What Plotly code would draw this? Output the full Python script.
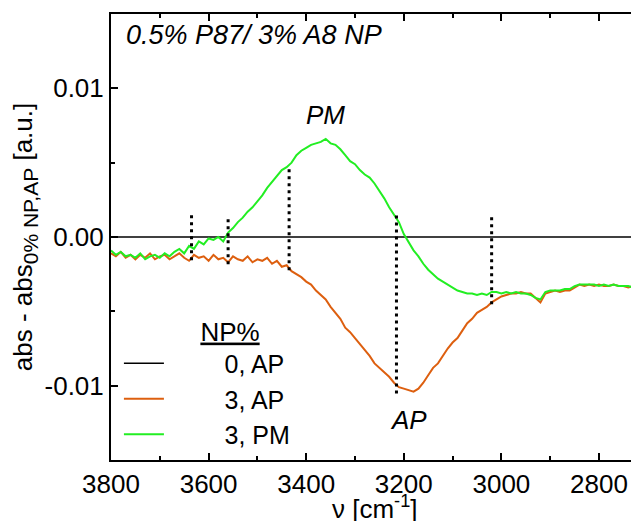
import plotly.graph_objects as go

# wavenumbers (cm^-1), 3800 -> 2720 step 10
wavenumber = list(range(3800, 2710, -10))

ap_3 = [
    -0.0011, -0.0013, -0.0010, -0.0014, -0.0012, -0.0015, -0.0012, -0.0014, -0.0011, -0.0015,  # 3800-3710
    -0.0013, -0.0012, -0.0015, -0.0013, -0.0011, -0.0014, -0.0016, -0.0012, -0.0014, -0.0013,  # 3700-3610
    -0.0016, -0.0012, -0.0015, -0.0014, -0.0017, -0.0013, -0.0015, -0.0016, -0.0013, -0.0017,  # 3600-3510
    -0.0015, -0.0016, -0.0014, -0.0018, -0.0016, -0.0020, -0.0019, -0.0023, -0.0025, -0.0027,  # 3500-3410
    -0.0030, -0.0032, -0.0036, -0.0039, -0.0042, -0.0047, -0.0051, -0.0055, -0.0061, -0.0064,  # 3400-3310
    -0.0068, -0.0072, -0.0076, -0.0080, -0.0085, -0.0088, -0.0091, -0.0094, -0.0098, -0.0101,  # 3300-3210
    -0.0102, -0.0103, -0.0104, -0.0102, -0.0098, -0.0093, -0.0088, -0.0085, -0.0080, -0.0075,  # 3200-3110
    -0.0071, -0.0068, -0.0063, -0.0058, -0.0055, -0.0051, -0.0049, -0.0047, -0.0044, -0.0042,  # 3100-3010
    -0.0040, -0.0039, -0.0038, -0.0038, -0.0037, -0.0038, -0.0038, -0.0041, -0.0044, -0.0038,  # 3000-2910
    -0.0037, -0.0036, -0.0037, -0.0036, -0.0036, -0.0034, -0.0032, -0.0033, -0.0032, -0.0033,  # 2900-2810
    -0.0032, -0.0033, -0.0033, -0.0032, -0.0033, -0.0033, -0.0034, -0.0033, -0.0034,          # 2800-2720
]

pm_3 = [
    -0.0009, -0.0012, -0.0010, -0.0013, -0.0012, -0.0014, -0.0011, -0.0015, -0.0013, -0.0012,  # 3800-3710
    -0.0014, -0.0011, -0.0013, -0.0010, -0.0008, -0.0011, -0.0006, -0.0008, -0.0003, -0.0005,  # 3700-3610
    -0.0001, -0.0002, 0.0000, -0.0003, 0.0003, 0.0006, 0.0010, 0.0013, 0.0017, 0.0020,        # 3600-3510
    0.0024, 0.0028, 0.0033, 0.0037, 0.0041, 0.0045, 0.0047, 0.0050, 0.0055, 0.0058,           # 3500-3410
    0.0060, 0.0062, 0.0063, 0.0064, 0.0066, 0.0063, 0.0062, 0.0059, 0.0055, 0.0051,           # 3400-3310
    0.0049, 0.0045, 0.0042, 0.0040, 0.0036, 0.0031, 0.0026, 0.0020, 0.0015, 0.0010,           # 3300-3210
    0.0002, -0.0004, -0.0009, -0.0013, -0.0018, -0.0022, -0.0025, -0.0028, -0.0030, -0.0032,  # 3200-3110
    -0.0034, -0.0036, -0.0037, -0.0038, -0.0038, -0.0039, -0.0038, -0.0039, -0.0037, -0.0037,  # 3100-3010
    -0.0038, -0.0037, -0.0038, -0.0037, -0.0038, -0.0038, -0.0039, -0.0041, -0.0042, -0.0037,  # 3000-2910
    -0.0036, -0.0036, -0.0036, -0.0035, -0.0035, -0.0033, -0.0032, -0.0032, -0.0032, -0.0032,  # 2900-2810
    -0.0033, -0.0032, -0.0033, -0.0032, -0.0033, -0.0033, -0.0033, -0.0034, -0.0034,          # 2800-2720
]

ap_0 = [0.0 for _ in wavenumber]

# dotted marker lines: position, top, bottom
marker_x = [3635, 3560, 3435, 3215, 3020]
marker_top = [0.00146, 0.00119, 0.00483, 0.00146, 0.00153]
marker_bottom = [-0.00157, -0.00184, -0.00224, -0.01053, -0.00453]

x_ticks = [3800, 3600, 3400, 3200, 3000, 2800]
y_tickvals = [-0.01, 0.0, 0.01]
y_ticktext = ["-0.01", "0.00", "0.01"]

FONT = "Liberation Sans, Arial, sans-serif"
FS = 26
NB = "\u00a0"

fig = go.Figure()
fig.add_trace(go.Scatter(x=wavenumber, y=ap_0, mode="lines", name=NB * 8 + "0, AP",
                         line=dict(color="black", width=1.6)))
fig.add_trace(go.Scatter(x=wavenumber, y=ap_3, mode="lines", name=NB * 8 + "3, AP",
                         line=dict(color="#DD5F0F", width=2)))
fig.add_trace(go.Scatter(x=wavenumber, y=pm_3, mode="lines", name=NB * 8 + "3, PM",
                         line=dict(color="#22EE22", width=2)))

for xv, yt, yb in zip(marker_x, marker_top, marker_bottom):
    fig.add_trace(go.Scatter(x=[xv, xv], y=[yb, yt], mode="lines", showlegend=False,
                             line=dict(color="black", width=3, dash="3px,4px")))

fig.add_annotation(x=0.025, y=0.99, xref="paper", yref="paper", text="<i>0.5% P87/ 3% A8 NP</i>",
                   showarrow=False, xanchor="left", yanchor="top", font=dict(size=27, color="black"))
fig.add_annotation(x=3361, y=0.0082, text="<i>PM</i>", showarrow=False,
                   font=dict(size=FS, color="black"))
fig.add_annotation(x=3191, y=-0.01234, text="<i>AP</i>", showarrow=False,
                   font=dict(size=FS, color="black"))
# x-axis title (placed as annotation to sit close to the tick labels, as in the reference)
fig.add_annotation(x=0.5, y=0, xref="paper", yref="paper", yshift=-29,
                   text="ν [cm<sup>-1</sup>]", showarrow=False, xanchor="center", yanchor="top",
                   font=dict(size=FS, color="black"))

# page body has an 8px margin, so the figure is offset by (8, 8) in the window
fig.update_layout(
    width=631, height=513,
    margin=dict(l=103, r=0, t=6, b=61),
    paper_bgcolor="white", plot_bgcolor="white",
    font=dict(family=FONT, size=FS, color="black"),
    showlegend=True,
    legend=dict(x=0.015, y=0.005, xanchor="left", yanchor="bottom",
                bgcolor="rgba(0,0,0,0)",
                title=dict(text=NB * 11 + "<u>NP%</u>", side="top", font=dict(size=26)),
                font=dict(size=25), tracegroupgap=0, itemwidth=40),
)
fig.update_xaxes(
    range=[3800, 2718], tickvals=x_ticks, tickformat="d", automargin=False,
    ticks="inside", ticklen=7, tickwidth=1.5, tickcolor="black",
    minor=dict(dtick=100, tick0=3800, ticks="inside", ticklen=4, tickwidth=1.5, tickcolor="black"),
    showline=True, linecolor="black", linewidth=2, mirror="ticks",
    showgrid=False, zeroline=False,
)
fig.update_yaxes(
    range=[-0.0150, 0.0150], tickmode="array", tickvals=y_tickvals, ticktext=y_ticktext,
    automargin=False,
    ticks="inside", ticklen=7, tickwidth=1.5, tickcolor="black",
    minor=dict(tickmode="array", tickvals=[-0.005, 0.005], ticks="inside", ticklen=4,
               tickwidth=1.5, tickcolor="black"),
    showline=True, linecolor="black", linewidth=2, mirror=False,
    showgrid=False, zeroline=False,
    title=dict(text="abs - abs<sub><span style=\"font-size:21px\">0% NP,AP</span></sub> [a.u.]",
               standoff=4, font=dict(size=FS)),
)

fig.write_html("out.html")
